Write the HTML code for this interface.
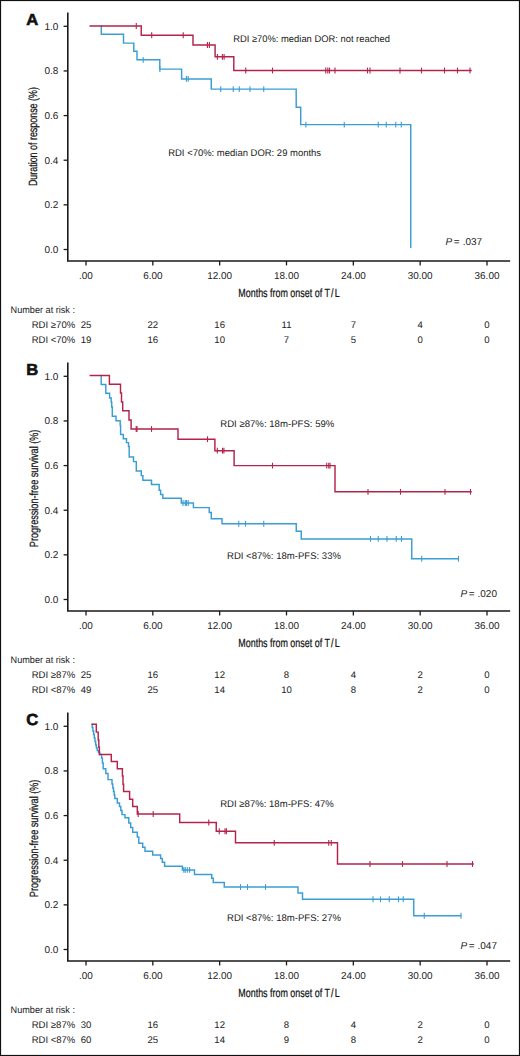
<!DOCTYPE html>
<html><head><meta charset="utf-8"><title>KM curves</title>
<style>html,body{margin:0;padding:0;background:#fff;}body{width:520px;height:1056px;overflow:hidden;}svg{display:block;}</style></head><body>
<svg width="520" height="1056" viewBox="0 0 520 1056" font-family='"Liberation Sans", sans-serif' text-rendering="geometricPrecision">
<rect x="0" y="0" width="520" height="1056" fill="#fff"/>
<text x="26.20" y="24.90" font-size="16" text-anchor="start" fill="#111" font-weight="bold" textLength="12.0" lengthAdjust="spacingAndGlyphs" stroke="#111" stroke-width="0.6">A</text>
<path d="M67.8 12.50 V261.00 H510.1" fill="none" stroke="#1a1a1a" stroke-width="1.6"/>
<path d="M63.6 249.50 H67.8" stroke="#1a1a1a" stroke-width="1.3"/>
<text x="58.40" y="252.90" font-size="10.0" text-anchor="end" fill="#222" >0.0</text>
<path d="M63.6 204.86 H67.8" stroke="#1a1a1a" stroke-width="1.3"/>
<text x="58.40" y="208.26" font-size="10.0" text-anchor="end" fill="#222" >0.2</text>
<path d="M63.6 160.22 H67.8" stroke="#1a1a1a" stroke-width="1.3"/>
<text x="58.40" y="163.62" font-size="10.0" text-anchor="end" fill="#222" >0.4</text>
<path d="M63.6 115.58 H67.8" stroke="#1a1a1a" stroke-width="1.3"/>
<text x="58.40" y="118.98" font-size="10.0" text-anchor="end" fill="#222" >0.6</text>
<path d="M63.6 70.94 H67.8" stroke="#1a1a1a" stroke-width="1.3"/>
<text x="58.40" y="74.34" font-size="10.0" text-anchor="end" fill="#222" >0.8</text>
<path d="M63.6 26.30 H67.8" stroke="#1a1a1a" stroke-width="1.3"/>
<text x="58.40" y="29.70" font-size="10.0" text-anchor="end" fill="#222" >1.0</text>
<path d="M86.00 261.00 V265.40" stroke="#1a1a1a" stroke-width="1.3"/>
<text x="86.00" y="278.80" font-size="9.95" text-anchor="middle" fill="#222" >.00</text>
<path d="M152.83 261.00 V265.40" stroke="#1a1a1a" stroke-width="1.3"/>
<text x="152.83" y="278.80" font-size="9.95" text-anchor="middle" fill="#222" >6.00</text>
<path d="M219.67 261.00 V265.40" stroke="#1a1a1a" stroke-width="1.3"/>
<text x="219.67" y="278.80" font-size="9.95" text-anchor="middle" fill="#222" >12.00</text>
<path d="M286.50 261.00 V265.40" stroke="#1a1a1a" stroke-width="1.3"/>
<text x="286.50" y="278.80" font-size="9.95" text-anchor="middle" fill="#222" >18.00</text>
<path d="M353.33 261.00 V265.40" stroke="#1a1a1a" stroke-width="1.3"/>
<text x="353.33" y="278.80" font-size="9.95" text-anchor="middle" fill="#222" >24.00</text>
<path d="M420.17 261.00 V265.40" stroke="#1a1a1a" stroke-width="1.3"/>
<text x="420.17" y="278.80" font-size="9.95" text-anchor="middle" fill="#222" >30.00</text>
<path d="M487.00 261.00 V265.40" stroke="#1a1a1a" stroke-width="1.3"/>
<text x="487.00" y="278.80" font-size="9.95" text-anchor="middle" fill="#222" >36.00</text>
<text x="238.30" y="296.70" font-size="12" text-anchor="start" fill="#111" textLength="101.3" lengthAdjust="spacingAndGlyphs" stroke="#111" stroke-width="0.22">Months from onset of T<tspan dx="1.5">/</tspan><tspan dx="1.5">L</tspan></text>
<text transform="translate(37.4 136.60) rotate(-90)" font-size="12" text-anchor="middle" fill="#111" stroke="#111" stroke-width="0.22" textLength="99" lengthAdjust="spacingAndGlyphs">Duration of response (%)</text>
<path d="M100.6 26 H101.3 V34.2 H123.5 V43.1 H133.8 V51.3 H137 V59.8 H159.8 V69.1 H181.6 V78.9 H211.25 V89.1 H296.2 V107.2 H300.7 V124.6 H410.75 V248" fill="none" stroke="#3a9ed3" stroke-width="1.45"/>
<path d="M143.20 56.90 V62.70" stroke="#3a9ed3" stroke-width="1.1"/>
<path d="M159.90 66.20 V72.00" stroke="#3a9ed3" stroke-width="1.1"/>
<path d="M186.40 76.00 V81.80" stroke="#3a9ed3" stroke-width="1.1"/>
<path d="M188.20 76.00 V81.80" stroke="#3a9ed3" stroke-width="1.1"/>
<path d="M220.75 86.20 V92.00" stroke="#3a9ed3" stroke-width="1.1"/>
<path d="M233.25 86.20 V92.00" stroke="#3a9ed3" stroke-width="1.1"/>
<path d="M239.25 86.20 V92.00" stroke="#3a9ed3" stroke-width="1.1"/>
<path d="M250.00 86.20 V92.00" stroke="#3a9ed3" stroke-width="1.1"/>
<path d="M263.75 86.20 V92.00" stroke="#3a9ed3" stroke-width="1.1"/>
<path d="M305.90 121.70 V127.50" stroke="#3a9ed3" stroke-width="1.1"/>
<path d="M344.25 121.70 V127.50" stroke="#3a9ed3" stroke-width="1.1"/>
<path d="M378.25 121.70 V127.50" stroke="#3a9ed3" stroke-width="1.1"/>
<path d="M386.25 121.70 V127.50" stroke="#3a9ed3" stroke-width="1.1"/>
<path d="M395.75 121.70 V127.50" stroke="#3a9ed3" stroke-width="1.1"/>
<path d="M401.25 121.70 V127.50" stroke="#3a9ed3" stroke-width="1.1"/>
<path d="M89.5 26 H141.25 V35.25 H193 V45 H215.1 V56.8 H233.8 V70.5 H471.75" fill="none" stroke="#b2244b" stroke-width="1.45"/>
<path d="M136.25 23.10 V28.90" stroke="#b2244b" stroke-width="1.1"/>
<path d="M151.70 32.35 V38.15" stroke="#b2244b" stroke-width="1.1"/>
<path d="M183.20 32.35 V38.15" stroke="#b2244b" stroke-width="1.1"/>
<path d="M207.40 42.10 V47.90" stroke="#b2244b" stroke-width="1.1"/>
<path d="M209.40 42.10 V47.90" stroke="#b2244b" stroke-width="1.1"/>
<path d="M217.40 53.90 V59.70" stroke="#b2244b" stroke-width="1.1"/>
<path d="M222.40 53.90 V59.70" stroke="#b2244b" stroke-width="1.1"/>
<path d="M224.10 53.90 V59.70" stroke="#b2244b" stroke-width="1.1"/>
<path d="M245.75 67.60 V73.40" stroke="#b2244b" stroke-width="1.1"/>
<path d="M272.50 67.60 V73.40" stroke="#b2244b" stroke-width="1.1"/>
<path d="M325.75 67.60 V73.40" stroke="#b2244b" stroke-width="1.1"/>
<path d="M327.80 67.60 V73.40" stroke="#b2244b" stroke-width="1.1"/>
<path d="M329.50 67.60 V73.40" stroke="#b2244b" stroke-width="1.1"/>
<path d="M335.00 67.60 V73.40" stroke="#b2244b" stroke-width="1.1"/>
<path d="M367.50 67.60 V73.40" stroke="#b2244b" stroke-width="1.1"/>
<path d="M370.00 67.60 V73.40" stroke="#b2244b" stroke-width="1.1"/>
<path d="M400.00 67.60 V73.40" stroke="#b2244b" stroke-width="1.1"/>
<path d="M421.50 67.60 V73.40" stroke="#b2244b" stroke-width="1.1"/>
<path d="M444.50 67.60 V73.40" stroke="#b2244b" stroke-width="1.1"/>
<path d="M457.50 67.60 V73.40" stroke="#b2244b" stroke-width="1.1"/>
<path d="M470.00 67.60 V73.40" stroke="#b2244b" stroke-width="1.1"/>
<text x="233.20" y="41.70" font-size="9.6" text-anchor="start" fill="#222" textLength="156.8" lengthAdjust="spacingAndGlyphs" >RDI ≥70%: median DOR: not reached</text>
<text x="168.20" y="155.70" font-size="9.6" text-anchor="start" fill="#222" textLength="152.9" lengthAdjust="spacingAndGlyphs" >RDI &lt;70%: median DOR: 29 months</text>
<text x="445.60" y="245.40" font-size="10" fill="#222"><tspan font-style="italic">P</tspan><tspan dx="1.6">=</tspan><tspan dx="3.0">.037</tspan></text>
<text x="10.60" y="312.90" font-size="9.6" text-anchor="start" fill="#222" textLength="64.4" lengthAdjust="spacingAndGlyphs" >Number at risk :</text>
<text x="31.70" y="328.30" font-size="9.6" text-anchor="start" fill="#222" textLength="43.6" lengthAdjust="spacingAndGlyphs" >RDI ≥70%</text>
<text x="31.70" y="343.30" font-size="9.6" text-anchor="start" fill="#222" textLength="43.6" lengthAdjust="spacingAndGlyphs" >RDI &lt;70%</text>
<text x="86.00" y="328.30" font-size="9.6" text-anchor="middle" fill="#222" >25</text>
<text x="152.83" y="328.30" font-size="9.6" text-anchor="middle" fill="#222" >22</text>
<text x="219.67" y="328.30" font-size="9.6" text-anchor="middle" fill="#222" >16</text>
<text x="286.50" y="328.30" font-size="9.6" text-anchor="middle" fill="#222" >11</text>
<text x="353.33" y="328.30" font-size="9.6" text-anchor="middle" fill="#222" >7</text>
<text x="420.17" y="328.30" font-size="9.6" text-anchor="middle" fill="#222" >4</text>
<text x="487.00" y="328.30" font-size="9.6" text-anchor="middle" fill="#222" >0</text>
<text x="86.00" y="343.30" font-size="9.6" text-anchor="middle" fill="#222" >19</text>
<text x="152.83" y="343.30" font-size="9.6" text-anchor="middle" fill="#222" >16</text>
<text x="219.67" y="343.30" font-size="9.6" text-anchor="middle" fill="#222" >10</text>
<text x="286.50" y="343.30" font-size="9.6" text-anchor="middle" fill="#222" >7</text>
<text x="353.33" y="343.30" font-size="9.6" text-anchor="middle" fill="#222" >5</text>
<text x="420.17" y="343.30" font-size="9.6" text-anchor="middle" fill="#222" >0</text>
<text x="487.00" y="343.30" font-size="9.6" text-anchor="middle" fill="#222" >0</text>
<text x="26.20" y="374.90" font-size="16" text-anchor="start" fill="#111" font-weight="bold" textLength="12.0" lengthAdjust="spacingAndGlyphs" stroke="#111" stroke-width="0.6">B</text>
<path d="M67.8 362.50 V611.00 H510.1" fill="none" stroke="#1a1a1a" stroke-width="1.6"/>
<path d="M63.6 599.50 H67.8" stroke="#1a1a1a" stroke-width="1.3"/>
<text x="58.40" y="602.90" font-size="10.0" text-anchor="end" fill="#222" >0.0</text>
<path d="M63.6 554.86 H67.8" stroke="#1a1a1a" stroke-width="1.3"/>
<text x="58.40" y="558.26" font-size="10.0" text-anchor="end" fill="#222" >0.2</text>
<path d="M63.6 510.22 H67.8" stroke="#1a1a1a" stroke-width="1.3"/>
<text x="58.40" y="513.62" font-size="10.0" text-anchor="end" fill="#222" >0.4</text>
<path d="M63.6 465.58 H67.8" stroke="#1a1a1a" stroke-width="1.3"/>
<text x="58.40" y="468.98" font-size="10.0" text-anchor="end" fill="#222" >0.6</text>
<path d="M63.6 420.94 H67.8" stroke="#1a1a1a" stroke-width="1.3"/>
<text x="58.40" y="424.34" font-size="10.0" text-anchor="end" fill="#222" >0.8</text>
<path d="M63.6 376.30 H67.8" stroke="#1a1a1a" stroke-width="1.3"/>
<text x="58.40" y="379.70" font-size="10.0" text-anchor="end" fill="#222" >1.0</text>
<path d="M86.00 611.00 V615.40" stroke="#1a1a1a" stroke-width="1.3"/>
<text x="86.00" y="628.80" font-size="9.95" text-anchor="middle" fill="#222" >.00</text>
<path d="M152.83 611.00 V615.40" stroke="#1a1a1a" stroke-width="1.3"/>
<text x="152.83" y="628.80" font-size="9.95" text-anchor="middle" fill="#222" >6.00</text>
<path d="M219.67 611.00 V615.40" stroke="#1a1a1a" stroke-width="1.3"/>
<text x="219.67" y="628.80" font-size="9.95" text-anchor="middle" fill="#222" >12.00</text>
<path d="M286.50 611.00 V615.40" stroke="#1a1a1a" stroke-width="1.3"/>
<text x="286.50" y="628.80" font-size="9.95" text-anchor="middle" fill="#222" >18.00</text>
<path d="M353.33 611.00 V615.40" stroke="#1a1a1a" stroke-width="1.3"/>
<text x="353.33" y="628.80" font-size="9.95" text-anchor="middle" fill="#222" >24.00</text>
<path d="M420.17 611.00 V615.40" stroke="#1a1a1a" stroke-width="1.3"/>
<text x="420.17" y="628.80" font-size="9.95" text-anchor="middle" fill="#222" >30.00</text>
<path d="M487.00 611.00 V615.40" stroke="#1a1a1a" stroke-width="1.3"/>
<text x="487.00" y="628.80" font-size="9.95" text-anchor="middle" fill="#222" >36.00</text>
<text x="238.30" y="646.70" font-size="12" text-anchor="start" fill="#111" textLength="101.3" lengthAdjust="spacingAndGlyphs" stroke="#111" stroke-width="0.22">Months from onset of T<tspan dx="1.5">/</tspan><tspan dx="1.5">L</tspan></text>
<text transform="translate(37.9 488.40) rotate(-90)" font-size="12" text-anchor="middle" fill="#111" stroke="#111" stroke-width="0.22" textLength="117.5" lengthAdjust="spacingAndGlyphs">Progression-free survival (%)</text>
<path d="M100.5 375.5 H101.2 V384.4 H105.8 V393.3 H109.6 V398 H111.2 V402 H111.7 V407 H112.3 V416.2 H116 V420.8 H120.2 V425.4 H120.6 V434.4 H123.3 V438.8 H126.5 V442.6 H128.5 V446.5 H129.2 V457 H133.5 V461.6 H136.3 V471 H141.3 V475.6 H142.9 V480.2 H151.5 V484.4 H159.2 V490.3 H160.6 V494.4 H162.8 V498.2 H181.3 V503 H193.4 V507.6 H209.25 V512.5 H211.25 V518.75 H222 V523.75 H296.25 V531.25 H301.25 V538.9 H411.75 V558.75 H458.75" fill="none" stroke="#3a9ed3" stroke-width="1.45"/>
<path d="M183.00 500.10 V505.90" stroke="#3a9ed3" stroke-width="1.1"/>
<path d="M185.30 500.10 V505.90" stroke="#3a9ed3" stroke-width="1.1"/>
<path d="M186.50 500.10 V505.90" stroke="#3a9ed3" stroke-width="1.1"/>
<path d="M188.20 500.10 V505.90" stroke="#3a9ed3" stroke-width="1.1"/>
<path d="M238.75 520.85 V526.65" stroke="#3a9ed3" stroke-width="1.1"/>
<path d="M245.50 520.85 V526.65" stroke="#3a9ed3" stroke-width="1.1"/>
<path d="M263.75 520.85 V526.65" stroke="#3a9ed3" stroke-width="1.1"/>
<path d="M370.50 536.00 V541.80" stroke="#3a9ed3" stroke-width="1.1"/>
<path d="M378.25 536.00 V541.80" stroke="#3a9ed3" stroke-width="1.1"/>
<path d="M387.00 536.00 V541.80" stroke="#3a9ed3" stroke-width="1.1"/>
<path d="M396.25 536.00 V541.80" stroke="#3a9ed3" stroke-width="1.1"/>
<path d="M401.50 536.00 V541.80" stroke="#3a9ed3" stroke-width="1.1"/>
<path d="M421.75 555.85 V561.65" stroke="#3a9ed3" stroke-width="1.1"/>
<path d="M458.50 555.85 V561.65" stroke="#3a9ed3" stroke-width="1.1"/>
<path d="M89.6 375.5 H109.4 V384.2 H120.5 V393 H121.5 V402 H122.7 V410.7 H129 V420 H131.1 V429 H178 V439.2 H214.9 V450.7 H234.1 V465.6 H335 V491.8 H471.75" fill="none" stroke="#b2244b" stroke-width="1.45"/>
<path d="M136.20 426.10 V431.90" stroke="#b2244b" stroke-width="1.1"/>
<path d="M137.00 426.10 V431.90" stroke="#b2244b" stroke-width="1.1"/>
<path d="M151.50 426.10 V431.90" stroke="#b2244b" stroke-width="1.1"/>
<path d="M207.50 436.30 V442.10" stroke="#b2244b" stroke-width="1.1"/>
<path d="M217.30 447.80 V453.60" stroke="#b2244b" stroke-width="1.1"/>
<path d="M222.50 447.80 V453.60" stroke="#b2244b" stroke-width="1.1"/>
<path d="M223.90 447.80 V453.60" stroke="#b2244b" stroke-width="1.1"/>
<path d="M272.50 462.70 V468.50" stroke="#b2244b" stroke-width="1.1"/>
<path d="M326.75 462.70 V468.50" stroke="#b2244b" stroke-width="1.1"/>
<path d="M328.75 462.70 V468.50" stroke="#b2244b" stroke-width="1.1"/>
<path d="M330.00 462.70 V468.50" stroke="#b2244b" stroke-width="1.1"/>
<path d="M368.00 488.90 V494.70" stroke="#b2244b" stroke-width="1.1"/>
<path d="M400.50 488.90 V494.70" stroke="#b2244b" stroke-width="1.1"/>
<path d="M445.00 488.90 V494.70" stroke="#b2244b" stroke-width="1.1"/>
<path d="M470.50 488.90 V494.70" stroke="#b2244b" stroke-width="1.1"/>
<text x="220.20" y="426.50" font-size="9.6" text-anchor="start" fill="#222" textLength="114.2" lengthAdjust="spacingAndGlyphs" >RDI ≥87%: 18m-PFS: 59%</text>
<text x="227.00" y="559.00" font-size="9.6" text-anchor="start" fill="#222" textLength="114" lengthAdjust="spacingAndGlyphs" >RDI &lt;87%: 18m-PFS: 33%</text>
<text x="460.40" y="596.90" font-size="10" fill="#222"><tspan font-style="italic">P</tspan><tspan dx="1.6">=</tspan><tspan dx="3.0">.020</tspan></text>
<text x="10.60" y="662.90" font-size="9.6" text-anchor="start" fill="#222" textLength="64.4" lengthAdjust="spacingAndGlyphs" >Number at risk :</text>
<text x="31.70" y="678.30" font-size="9.6" text-anchor="start" fill="#222" textLength="43.6" lengthAdjust="spacingAndGlyphs" >RDI ≥87%</text>
<text x="31.70" y="693.30" font-size="9.6" text-anchor="start" fill="#222" textLength="43.6" lengthAdjust="spacingAndGlyphs" >RDI &lt;87%</text>
<text x="86.00" y="678.30" font-size="9.6" text-anchor="middle" fill="#222" >25</text>
<text x="152.83" y="678.30" font-size="9.6" text-anchor="middle" fill="#222" >16</text>
<text x="219.67" y="678.30" font-size="9.6" text-anchor="middle" fill="#222" >12</text>
<text x="286.50" y="678.30" font-size="9.6" text-anchor="middle" fill="#222" >8</text>
<text x="353.33" y="678.30" font-size="9.6" text-anchor="middle" fill="#222" >4</text>
<text x="420.17" y="678.30" font-size="9.6" text-anchor="middle" fill="#222" >2</text>
<text x="487.00" y="678.30" font-size="9.6" text-anchor="middle" fill="#222" >0</text>
<text x="86.00" y="693.30" font-size="9.6" text-anchor="middle" fill="#222" >49</text>
<text x="152.83" y="693.30" font-size="9.6" text-anchor="middle" fill="#222" >25</text>
<text x="219.67" y="693.30" font-size="9.6" text-anchor="middle" fill="#222" >14</text>
<text x="286.50" y="693.30" font-size="9.6" text-anchor="middle" fill="#222" >10</text>
<text x="353.33" y="693.30" font-size="9.6" text-anchor="middle" fill="#222" >8</text>
<text x="420.17" y="693.30" font-size="9.6" text-anchor="middle" fill="#222" >2</text>
<text x="487.00" y="693.30" font-size="9.6" text-anchor="middle" fill="#222" >0</text>
<text x="26.20" y="724.90" font-size="16" text-anchor="start" fill="#111" font-weight="bold" textLength="12.0" lengthAdjust="spacingAndGlyphs" stroke="#111" stroke-width="0.6">C</text>
<path d="M67.8 712.50 V961.00 H510.1" fill="none" stroke="#1a1a1a" stroke-width="1.6"/>
<path d="M63.6 949.50 H67.8" stroke="#1a1a1a" stroke-width="1.3"/>
<text x="58.40" y="952.90" font-size="10.0" text-anchor="end" fill="#222" >0.0</text>
<path d="M63.6 904.86 H67.8" stroke="#1a1a1a" stroke-width="1.3"/>
<text x="58.40" y="908.26" font-size="10.0" text-anchor="end" fill="#222" >0.2</text>
<path d="M63.6 860.22 H67.8" stroke="#1a1a1a" stroke-width="1.3"/>
<text x="58.40" y="863.62" font-size="10.0" text-anchor="end" fill="#222" >0.4</text>
<path d="M63.6 815.58 H67.8" stroke="#1a1a1a" stroke-width="1.3"/>
<text x="58.40" y="818.98" font-size="10.0" text-anchor="end" fill="#222" >0.6</text>
<path d="M63.6 770.94 H67.8" stroke="#1a1a1a" stroke-width="1.3"/>
<text x="58.40" y="774.34" font-size="10.0" text-anchor="end" fill="#222" >0.8</text>
<path d="M63.6 726.30 H67.8" stroke="#1a1a1a" stroke-width="1.3"/>
<text x="58.40" y="729.70" font-size="10.0" text-anchor="end" fill="#222" >1.0</text>
<path d="M86.00 961.00 V965.40" stroke="#1a1a1a" stroke-width="1.3"/>
<text x="86.00" y="978.80" font-size="9.95" text-anchor="middle" fill="#222" >.00</text>
<path d="M152.83 961.00 V965.40" stroke="#1a1a1a" stroke-width="1.3"/>
<text x="152.83" y="978.80" font-size="9.95" text-anchor="middle" fill="#222" >6.00</text>
<path d="M219.67 961.00 V965.40" stroke="#1a1a1a" stroke-width="1.3"/>
<text x="219.67" y="978.80" font-size="9.95" text-anchor="middle" fill="#222" >12.00</text>
<path d="M286.50 961.00 V965.40" stroke="#1a1a1a" stroke-width="1.3"/>
<text x="286.50" y="978.80" font-size="9.95" text-anchor="middle" fill="#222" >18.00</text>
<path d="M353.33 961.00 V965.40" stroke="#1a1a1a" stroke-width="1.3"/>
<text x="353.33" y="978.80" font-size="9.95" text-anchor="middle" fill="#222" >24.00</text>
<path d="M420.17 961.00 V965.40" stroke="#1a1a1a" stroke-width="1.3"/>
<text x="420.17" y="978.80" font-size="9.95" text-anchor="middle" fill="#222" >30.00</text>
<path d="M487.00 961.00 V965.40" stroke="#1a1a1a" stroke-width="1.3"/>
<text x="487.00" y="978.80" font-size="9.95" text-anchor="middle" fill="#222" >36.00</text>
<text x="238.30" y="996.70" font-size="12" text-anchor="start" fill="#111" textLength="101.3" lengthAdjust="spacingAndGlyphs" stroke="#111" stroke-width="0.22">Months from onset of T<tspan dx="1.5">/</tspan><tspan dx="1.5">L</tspan></text>
<text transform="translate(37.9 838.40) rotate(-90)" font-size="12" text-anchor="middle" fill="#111" stroke="#111" stroke-width="0.22" textLength="117.5" lengthAdjust="spacingAndGlyphs">Progression-free survival (%)</text>
<path d="M91.5 724.2 H92.2 V727.5 H92.9 V731 H93.6 V734.5 H94.3 V738 H95.0 V741.5 H95.7 V745 H96.4 V748 H97.2 V750.5 H98.5 V752.5 H99.6 V754.5 H101.6 V758 H102.4 V763 H103.2 V768.8 H105.8 V773.5 H108 V779.6 H112 V784 H112.8 V788 H113.5 V791.5 H114.2 V795 H114.8 V798.5 H117.3 V803 H119.5 V806.5 H120.8 V810.5 H122 V814.6 H125 V817.7 H128.8 V823 H130.7 V827.5 H132.7 V832.3 H137.3 V837 H138.8 V843.3 H142.7 V847.3 H145 V851.2 H152.7 V855 H160.6 V858.5 H162.3 V862.3 H164.6 V866.2 H182.4 V869.9 H194.5 V874.5 H211.75 V878.25 H213.25 V882.5 H224.25 V887 H298 V893 H302.5 V899.25 H413.75 V915.75 H461.25" fill="none" stroke="#3a9ed3" stroke-width="1.45"/>
<path d="M183.80 867.00 V872.80" stroke="#3a9ed3" stroke-width="1.1"/>
<path d="M185.20 867.00 V872.80" stroke="#3a9ed3" stroke-width="1.1"/>
<path d="M187.30 867.00 V872.80" stroke="#3a9ed3" stroke-width="1.1"/>
<path d="M189.60 867.00 V872.80" stroke="#3a9ed3" stroke-width="1.1"/>
<path d="M240.50 884.10 V889.90" stroke="#3a9ed3" stroke-width="1.1"/>
<path d="M247.50 884.10 V889.90" stroke="#3a9ed3" stroke-width="1.1"/>
<path d="M265.50 884.10 V889.90" stroke="#3a9ed3" stroke-width="1.1"/>
<path d="M373.00 896.35 V902.15" stroke="#3a9ed3" stroke-width="1.1"/>
<path d="M380.50 896.35 V902.15" stroke="#3a9ed3" stroke-width="1.1"/>
<path d="M389.25 896.35 V902.15" stroke="#3a9ed3" stroke-width="1.1"/>
<path d="M398.50 896.35 V902.15" stroke="#3a9ed3" stroke-width="1.1"/>
<path d="M403.25 896.35 V902.15" stroke="#3a9ed3" stroke-width="1.1"/>
<path d="M424.25 912.85 V918.65" stroke="#3a9ed3" stroke-width="1.1"/>
<path d="M461.00 912.85 V918.65" stroke="#3a9ed3" stroke-width="1.1"/>
<path d="M91.5 724.2 H96.3 V732.1 H98.2 V740 H98.8 V747.2 H99.4 V754.5 H111.3 V761.5 H117.3 V768.8 H122.4 V776 H123 V784.2 H123.6 V791.5 H129.6 V799.2 H132.7 V806.5 H137.3 V814 H179.7 V822.5 H216.25 V831.25 H235.5 V842.8 H337.5 V864 H473.75" fill="none" stroke="#b2244b" stroke-width="1.45"/>
<path d="M138.20 811.10 V816.90" stroke="#b2244b" stroke-width="1.1"/>
<path d="M153.20 811.10 V816.90" stroke="#b2244b" stroke-width="1.1"/>
<path d="M208.75 819.60 V825.40" stroke="#b2244b" stroke-width="1.1"/>
<path d="M219.25 828.35 V834.15" stroke="#b2244b" stroke-width="1.1"/>
<path d="M225.00 828.35 V834.15" stroke="#b2244b" stroke-width="1.1"/>
<path d="M226.40 828.35 V834.15" stroke="#b2244b" stroke-width="1.1"/>
<path d="M274.25 839.90 V845.70" stroke="#b2244b" stroke-width="1.1"/>
<path d="M328.75 839.90 V845.70" stroke="#b2244b" stroke-width="1.1"/>
<path d="M331.25 839.90 V845.70" stroke="#b2244b" stroke-width="1.1"/>
<path d="M370.00 861.10 V866.90" stroke="#b2244b" stroke-width="1.1"/>
<path d="M402.50 861.10 V866.90" stroke="#b2244b" stroke-width="1.1"/>
<path d="M447.00 861.10 V866.90" stroke="#b2244b" stroke-width="1.1"/>
<path d="M472.50 861.10 V866.90" stroke="#b2244b" stroke-width="1.1"/>
<text x="220.20" y="806.50" font-size="9.6" text-anchor="start" fill="#222" textLength="113.7" lengthAdjust="spacingAndGlyphs" >RDI ≥87%: 18m-PFS: 47%</text>
<text x="227.00" y="920.80" font-size="9.6" text-anchor="start" fill="#222" textLength="114" lengthAdjust="spacingAndGlyphs" >RDI &lt;87%: 18m-PFS: 27%</text>
<text x="460.40" y="949.40" font-size="10" fill="#222"><tspan font-style="italic">P</tspan><tspan dx="1.6">=</tspan><tspan dx="3.0">.047</tspan></text>
<text x="10.60" y="1012.90" font-size="9.6" text-anchor="start" fill="#222" textLength="64.4" lengthAdjust="spacingAndGlyphs" >Number at risk :</text>
<text x="31.70" y="1028.30" font-size="9.6" text-anchor="start" fill="#222" textLength="43.6" lengthAdjust="spacingAndGlyphs" >RDI ≥87%</text>
<text x="31.70" y="1043.30" font-size="9.6" text-anchor="start" fill="#222" textLength="43.6" lengthAdjust="spacingAndGlyphs" >RDI &lt;87%</text>
<text x="86.00" y="1028.30" font-size="9.6" text-anchor="middle" fill="#222" >30</text>
<text x="152.83" y="1028.30" font-size="9.6" text-anchor="middle" fill="#222" >16</text>
<text x="219.67" y="1028.30" font-size="9.6" text-anchor="middle" fill="#222" >12</text>
<text x="286.50" y="1028.30" font-size="9.6" text-anchor="middle" fill="#222" >8</text>
<text x="353.33" y="1028.30" font-size="9.6" text-anchor="middle" fill="#222" >4</text>
<text x="420.17" y="1028.30" font-size="9.6" text-anchor="middle" fill="#222" >2</text>
<text x="487.00" y="1028.30" font-size="9.6" text-anchor="middle" fill="#222" >0</text>
<text x="86.00" y="1043.30" font-size="9.6" text-anchor="middle" fill="#222" >60</text>
<text x="152.83" y="1043.30" font-size="9.6" text-anchor="middle" fill="#222" >25</text>
<text x="219.67" y="1043.30" font-size="9.6" text-anchor="middle" fill="#222" >14</text>
<text x="286.50" y="1043.30" font-size="9.6" text-anchor="middle" fill="#222" >9</text>
<text x="353.33" y="1043.30" font-size="9.6" text-anchor="middle" fill="#222" >8</text>
<text x="420.17" y="1043.30" font-size="9.6" text-anchor="middle" fill="#222" >2</text>
<text x="487.00" y="1043.30" font-size="9.6" text-anchor="middle" fill="#222" >0</text>
<rect x="0.5" y="0.5" width="519" height="1055" fill="none" stroke="#111" stroke-width="1.2"/>
</svg>
</body></html>
